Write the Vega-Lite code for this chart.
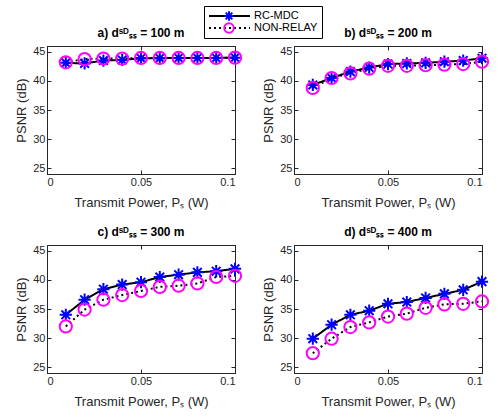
{
  "$schema": "https://vega.github.io/schema/vega-lite/v6.json",
  "padding": {"left": 15, "top": 5, "right": 5, "bottom": 5},
  "background": "white",
  "config": {
    "font": "Liberation Sans",
    "view": {"stroke": "#262626", "strokeWidth": 1},
    "axis": {"grid": false, "domainColor": "#262626", "tickColor": "#262626", "labelColor": "#262626", "titleColor": "#262626", "labelFontSize": 11, "titleFontSize": 13, "titleFontWeight": "normal", "tickSize": -4, "labelPadding": 6},
    "axisX": {"titlePadding": 9},
    "title": {"fontSize": 12, "fontWeight": "bold", "color": "black", "offset": 6},
    "legend": {"labelFontSize": 11, "labelColor": "black"}
  },
  "data": {"values": [
    {"panel":"a","series":"RC-MDC","p":0.01,"psnr":43.1},{"panel":"a","series":"RC-MDC","p":0.02,"psnr":43.0},{"panel":"a","series":"RC-MDC","p":0.03,"psnr":43.5},{"panel":"a","series":"RC-MDC","p":0.04,"psnr":43.6},{"panel":"a","series":"RC-MDC","p":0.05,"psnr":43.9},{"panel":"a","series":"RC-MDC","p":0.06,"psnr":43.9},{"panel":"a","series":"RC-MDC","p":0.07,"psnr":43.95},{"panel":"a","series":"RC-MDC","p":0.08,"psnr":43.95},{"panel":"a","series":"RC-MDC","p":0.09,"psnr":43.95},{"panel":"a","series":"RC-MDC","p":0.1,"psnr":44.0},
    {"panel":"b","series":"RC-MDC","p":0.01,"psnr":39.3},{"panel":"b","series":"RC-MDC","p":0.02,"psnr":40.5},{"panel":"b","series":"RC-MDC","p":0.03,"psnr":41.6},{"panel":"b","series":"RC-MDC","p":0.04,"psnr":42.3},{"panel":"b","series":"RC-MDC","p":0.05,"psnr":42.9},{"panel":"b","series":"RC-MDC","p":0.06,"psnr":43.0},{"panel":"b","series":"RC-MDC","p":0.07,"psnr":43.1},{"panel":"b","series":"RC-MDC","p":0.08,"psnr":43.3},{"panel":"b","series":"RC-MDC","p":0.09,"psnr":43.5},{"panel":"b","series":"RC-MDC","p":0.1,"psnr":43.9},
    {"panel":"c","series":"RC-MDC","p":0.01,"psnr":34.0},{"panel":"c","series":"RC-MDC","p":0.02,"psnr":36.6},{"panel":"c","series":"RC-MDC","p":0.03,"psnr":38.4},{"panel":"c","series":"RC-MDC","p":0.04,"psnr":39.2},{"panel":"c","series":"RC-MDC","p":0.05,"psnr":39.6},{"panel":"c","series":"RC-MDC","p":0.06,"psnr":40.5},{"panel":"c","series":"RC-MDC","p":0.07,"psnr":40.9},{"panel":"c","series":"RC-MDC","p":0.08,"psnr":41.3},{"panel":"c","series":"RC-MDC","p":0.09,"psnr":41.5},{"panel":"c","series":"RC-MDC","p":0.1,"psnr":41.9},
    {"panel":"d","series":"RC-MDC","p":0.01,"psnr":29.9},{"panel":"d","series":"RC-MDC","p":0.02,"psnr":32.3},{"panel":"d","series":"RC-MDC","p":0.03,"psnr":34.0},{"panel":"d","series":"RC-MDC","p":0.04,"psnr":34.7},{"panel":"d","series":"RC-MDC","p":0.05,"psnr":35.9},{"panel":"d","series":"RC-MDC","p":0.06,"psnr":36.2},{"panel":"d","series":"RC-MDC","p":0.07,"psnr":36.9},{"panel":"d","series":"RC-MDC","p":0.08,"psnr":37.6},{"panel":"d","series":"RC-MDC","p":0.09,"psnr":38.3},{"panel":"d","series":"RC-MDC","p":0.1,"psnr":39.7},
    {"panel":"a","series":"NON-RELAY","p":0.01,"psnr":43.2},{"panel":"a","series":"NON-RELAY","p":0.02,"psnr":43.75},{"panel":"a","series":"NON-RELAY","p":0.03,"psnr":43.85},{"panel":"a","series":"NON-RELAY","p":0.04,"psnr":43.85},{"panel":"a","series":"NON-RELAY","p":0.05,"psnr":43.95},{"panel":"a","series":"NON-RELAY","p":0.06,"psnr":43.95},{"panel":"a","series":"NON-RELAY","p":0.07,"psnr":43.95},{"panel":"a","series":"NON-RELAY","p":0.08,"psnr":43.95},{"panel":"a","series":"NON-RELAY","p":0.09,"psnr":43.95},{"panel":"a","series":"NON-RELAY","p":0.1,"psnr":44.0},
    {"panel":"b","series":"NON-RELAY","p":0.01,"psnr":38.8},{"panel":"b","series":"NON-RELAY","p":0.02,"psnr":40.5},{"panel":"b","series":"NON-RELAY","p":0.03,"psnr":41.3},{"panel":"b","series":"NON-RELAY","p":0.04,"psnr":42.1},{"panel":"b","series":"NON-RELAY","p":0.05,"psnr":42.6},{"panel":"b","series":"NON-RELAY","p":0.06,"psnr":42.6},{"panel":"b","series":"NON-RELAY","p":0.07,"psnr":42.7},{"panel":"b","series":"NON-RELAY","p":0.08,"psnr":42.8},{"panel":"b","series":"NON-RELAY","p":0.09,"psnr":42.9},{"panel":"b","series":"NON-RELAY","p":0.1,"psnr":43.3},
    {"panel":"c","series":"NON-RELAY","p":0.01,"psnr":32.0},{"panel":"c","series":"NON-RELAY","p":0.02,"psnr":34.9},{"panel":"c","series":"NON-RELAY","p":0.03,"psnr":36.6},{"panel":"c","series":"NON-RELAY","p":0.04,"psnr":37.4},{"panel":"c","series":"NON-RELAY","p":0.05,"psnr":38.1},{"panel":"c","series":"NON-RELAY","p":0.06,"psnr":38.8},{"panel":"c","series":"NON-RELAY","p":0.07,"psnr":39.0},{"panel":"c","series":"NON-RELAY","p":0.08,"psnr":39.4},{"panel":"c","series":"NON-RELAY","p":0.09,"psnr":40.5},{"panel":"c","series":"NON-RELAY","p":0.1,"psnr":40.7},
    {"panel":"d","series":"NON-RELAY","p":0.01,"psnr":27.4},{"panel":"d","series":"NON-RELAY","p":0.02,"psnr":29.9},{"panel":"d","series":"NON-RELAY","p":0.03,"psnr":31.9},{"panel":"d","series":"NON-RELAY","p":0.04,"psnr":32.7},{"panel":"d","series":"NON-RELAY","p":0.05,"psnr":33.7},{"panel":"d","series":"NON-RELAY","p":0.06,"psnr":34.2},{"panel":"d","series":"NON-RELAY","p":0.07,"psnr":35.2},{"panel":"d","series":"NON-RELAY","p":0.08,"psnr":35.8},{"panel":"d","series":"NON-RELAY","p":0.09,"psnr":35.9},{"panel":"d","series":"NON-RELAY","p":0.1,"psnr":36.3}
  ]},
  "columns": 2,
  "spacing": {"column": 59, "row": 71},
  "bounds": "flush",
  "concat": [
    {"width": 188, "height": 128, "title": "a) dˢᴰₛₛ = 100 m", "transform": [{"filter": "datum.panel == 'a'"}],
     "layer": [
      {"mark": {"type": "line", "color": "black", "strokeWidth": 2},
       "encoding": {
        "x": {"field": "p", "type": "quantitative", "scale": {"domain": [0, 0.1]}, "axis": {"values": [0, 0.05, 0.1], "format": "~g", "title": "Transmit Power, Pₛ (W)"}},
        "y": {"field": "psnr", "type": "quantitative", "scale": {"domain": [25, 45]}, "axis": {"values": [25, 30, 35, 40, 45], "title": "PSNR (dB)"}},
        "strokeDash": {"field": "series", "type": "nominal", "scale": {"domain": ["RC-MDC", "NON-RELAY"], "range": [[1, 0], [2, 3]]}, "legend": {"orient": "none", "legendX": 157, "legendY": -40, "title": null, "symbolType": "stroke", "symbolSize": 1681, "symbolStrokeWidth": 2, "symbolStrokeColor": "black", "symbolFillColor": "transparent", "strokeColor": "black", "padding": 4, "clipHeight": 12, "rowPadding": 0, "labelOffset": 3, "zindex": 1}}
       }},
      {"mark": {"type": "point", "filled": false, "strokeWidth": 2, "size": 150, "opacity": 1},
       "encoding": {
        "x": {"field": "p", "type": "quantitative", "axis": {"orient": "top", "values": [0, 0.05, 0.1], "labels": false, "title": null}},
        "y": {"field": "psnr", "type": "quantitative", "axis": {"orient": "right", "values": [25, 30, 35, 40, 45], "labels": false, "title": null}},
        "shape": {"field": "series", "type": "nominal", "sort": "descending", "scale": {"range": ["M-1,0L1,0M0,-1L0,1M-0.707,-0.707L0.707,0.707M-0.707,0.707L0.707,-0.707", "circle"]}, "legend": {"orient": "none", "legendX": 172, "legendY": -40, "title": null, "labelExpr": "''", "symbolStrokeWidth": 2, "symbolSize": 90, "symbolFillColor": "transparent", "padding": 4, "clipHeight": 12, "rowPadding": 0, "zindex": 2}},
        "color": {"field": "series", "type": "nominal", "sort": "descending", "scale": {"range": ["#0000FF", "#FF00FF"]}, "legend": {"orient": "none", "legendX": 172, "legendY": -40, "title": null, "labelExpr": "''", "symbolStrokeWidth": 2, "symbolSize": 90, "symbolFillColor": "transparent", "padding": 4, "clipHeight": 12, "rowPadding": 0, "zindex": 2}}
       }}
     ],
     "resolve": {"axis": {"x": "independent", "y": "independent"}}},
    {"width": 188, "height": 128, "title": "b) dˢᴰₛₛ = 200 m", "transform": [{"filter": "datum.panel == 'b'"}],
     "layer": [
      {"mark": {"type": "line", "color": "black", "strokeWidth": 2},
       "encoding": {
        "x": {"field": "p", "type": "quantitative", "scale": {"domain": [0, 0.1]}, "axis": {"values": [0, 0.05, 0.1], "format": "~g", "title": "Transmit Power, Pₛ (W)"}},
        "y": {"field": "psnr", "type": "quantitative", "scale": {"domain": [25, 45]}, "axis": {"values": [25, 30, 35, 40, 45], "title": "PSNR (dB)"}},
        "strokeDash": {"field": "series", "type": "nominal", "scale": {"domain": ["RC-MDC", "NON-RELAY"], "range": [[1, 0], [2, 3]]}, "legend": {"orient": "none", "legendX": 157, "legendY": -40, "title": null, "symbolType": "stroke", "symbolSize": 1681, "symbolStrokeWidth": 2, "symbolStrokeColor": "black", "symbolFillColor": "transparent", "strokeColor": "black", "padding": 4, "clipHeight": 12, "rowPadding": 0, "labelOffset": 3, "zindex": 1}}
       }},
      {"mark": {"type": "point", "filled": false, "strokeWidth": 2, "size": 150, "opacity": 1},
       "encoding": {
        "x": {"field": "p", "type": "quantitative", "axis": {"orient": "top", "values": [0, 0.05, 0.1], "labels": false, "title": null}},
        "y": {"field": "psnr", "type": "quantitative", "axis": {"orient": "right", "values": [25, 30, 35, 40, 45], "labels": false, "title": null}},
        "shape": {"field": "series", "type": "nominal", "sort": "descending", "scale": {"range": ["M-1,0L1,0M0,-1L0,1M-0.707,-0.707L0.707,0.707M-0.707,0.707L0.707,-0.707", "circle"]}, "legend": {"orient": "none", "legendX": 172, "legendY": -40, "title": null, "labelExpr": "''", "symbolStrokeWidth": 2, "symbolSize": 90, "symbolFillColor": "transparent", "padding": 4, "clipHeight": 12, "rowPadding": 0, "zindex": 2}},
        "color": {"field": "series", "type": "nominal", "sort": "descending", "scale": {"range": ["#0000FF", "#FF00FF"]}, "legend": {"orient": "none", "legendX": 172, "legendY": -40, "title": null, "labelExpr": "''", "symbolStrokeWidth": 2, "symbolSize": 90, "symbolFillColor": "transparent", "padding": 4, "clipHeight": 12, "rowPadding": 0, "zindex": 2}}
       }}
     ],
     "resolve": {"axis": {"x": "independent", "y": "independent"}}},
    {"width": 188, "height": 128, "title": "c) dˢᴰₛₛ = 300 m", "transform": [{"filter": "datum.panel == 'c'"}],
     "layer": [
      {"mark": {"type": "line", "color": "black", "strokeWidth": 2},
       "encoding": {
        "x": {"field": "p", "type": "quantitative", "scale": {"domain": [0, 0.1]}, "axis": {"values": [0, 0.05, 0.1], "format": "~g", "title": "Transmit Power, Pₛ (W)"}},
        "y": {"field": "psnr", "type": "quantitative", "scale": {"domain": [25, 45]}, "axis": {"values": [25, 30, 35, 40, 45], "title": "PSNR (dB)"}},
        "strokeDash": {"field": "series", "type": "nominal", "scale": {"domain": ["RC-MDC", "NON-RELAY"], "range": [[1, 0], [2, 3]]}, "legend": {"orient": "none", "legendX": 157, "legendY": -40, "title": null, "symbolType": "stroke", "symbolSize": 1681, "symbolStrokeWidth": 2, "symbolStrokeColor": "black", "symbolFillColor": "transparent", "strokeColor": "black", "padding": 4, "clipHeight": 12, "rowPadding": 0, "labelOffset": 3, "zindex": 1}}
       }},
      {"mark": {"type": "point", "filled": false, "strokeWidth": 2, "size": 150, "opacity": 1},
       "encoding": {
        "x": {"field": "p", "type": "quantitative", "axis": {"orient": "top", "values": [0, 0.05, 0.1], "labels": false, "title": null}},
        "y": {"field": "psnr", "type": "quantitative", "axis": {"orient": "right", "values": [25, 30, 35, 40, 45], "labels": false, "title": null}},
        "shape": {"field": "series", "type": "nominal", "sort": "descending", "scale": {"range": ["M-1,0L1,0M0,-1L0,1M-0.707,-0.707L0.707,0.707M-0.707,0.707L0.707,-0.707", "circle"]}, "legend": {"orient": "none", "legendX": 172, "legendY": -40, "title": null, "labelExpr": "''", "symbolStrokeWidth": 2, "symbolSize": 90, "symbolFillColor": "transparent", "padding": 4, "clipHeight": 12, "rowPadding": 0, "zindex": 2}},
        "color": {"field": "series", "type": "nominal", "sort": "descending", "scale": {"range": ["#0000FF", "#FF00FF"]}, "legend": {"orient": "none", "legendX": 172, "legendY": -40, "title": null, "labelExpr": "''", "symbolStrokeWidth": 2, "symbolSize": 90, "symbolFillColor": "transparent", "padding": 4, "clipHeight": 12, "rowPadding": 0, "zindex": 2}}
       }}
     ],
     "resolve": {"axis": {"x": "independent", "y": "independent"}}},
    {"width": 188, "height": 128, "title": "d) dˢᴰₛₛ = 400 m", "transform": [{"filter": "datum.panel == 'd'"}],
     "layer": [
      {"mark": {"type": "line", "color": "black", "strokeWidth": 2},
       "encoding": {
        "x": {"field": "p", "type": "quantitative", "scale": {"domain": [0, 0.1]}, "axis": {"values": [0, 0.05, 0.1], "format": "~g", "title": "Transmit Power, Pₛ (W)"}},
        "y": {"field": "psnr", "type": "quantitative", "scale": {"domain": [25, 45]}, "axis": {"values": [25, 30, 35, 40, 45], "title": "PSNR (dB)"}},
        "strokeDash": {"field": "series", "type": "nominal", "scale": {"domain": ["RC-MDC", "NON-RELAY"], "range": [[1, 0], [2, 3]]}, "legend": {"orient": "none", "legendX": 157, "legendY": -40, "title": null, "symbolType": "stroke", "symbolSize": 1681, "symbolStrokeWidth": 2, "symbolStrokeColor": "black", "symbolFillColor": "transparent", "strokeColor": "black", "padding": 4, "clipHeight": 12, "rowPadding": 0, "labelOffset": 3, "zindex": 1}}
       }},
      {"mark": {"type": "point", "filled": false, "strokeWidth": 2, "size": 150, "opacity": 1},
       "encoding": {
        "x": {"field": "p", "type": "quantitative", "axis": {"orient": "top", "values": [0, 0.05, 0.1], "labels": false, "title": null}},
        "y": {"field": "psnr", "type": "quantitative", "axis": {"orient": "right", "values": [25, 30, 35, 40, 45], "labels": false, "title": null}},
        "shape": {"field": "series", "type": "nominal", "sort": "descending", "scale": {"range": ["M-1,0L1,0M0,-1L0,1M-0.707,-0.707L0.707,0.707M-0.707,0.707L0.707,-0.707", "circle"]}, "legend": {"orient": "none", "legendX": 172, "legendY": -40, "title": null, "labelExpr": "''", "symbolStrokeWidth": 2, "symbolSize": 90, "symbolFillColor": "transparent", "padding": 4, "clipHeight": 12, "rowPadding": 0, "zindex": 2}},
        "color": {"field": "series", "type": "nominal", "sort": "descending", "scale": {"range": ["#0000FF", "#FF00FF"]}, "legend": {"orient": "none", "legendX": 172, "legendY": -40, "title": null, "labelExpr": "''", "symbolStrokeWidth": 2, "symbolSize": 90, "symbolFillColor": "transparent", "padding": 4, "clipHeight": 12, "rowPadding": 0, "zindex": 2}}
       }}
     ],
     "resolve": {"axis": {"x": "independent", "y": "independent"}}}
  ]
}
